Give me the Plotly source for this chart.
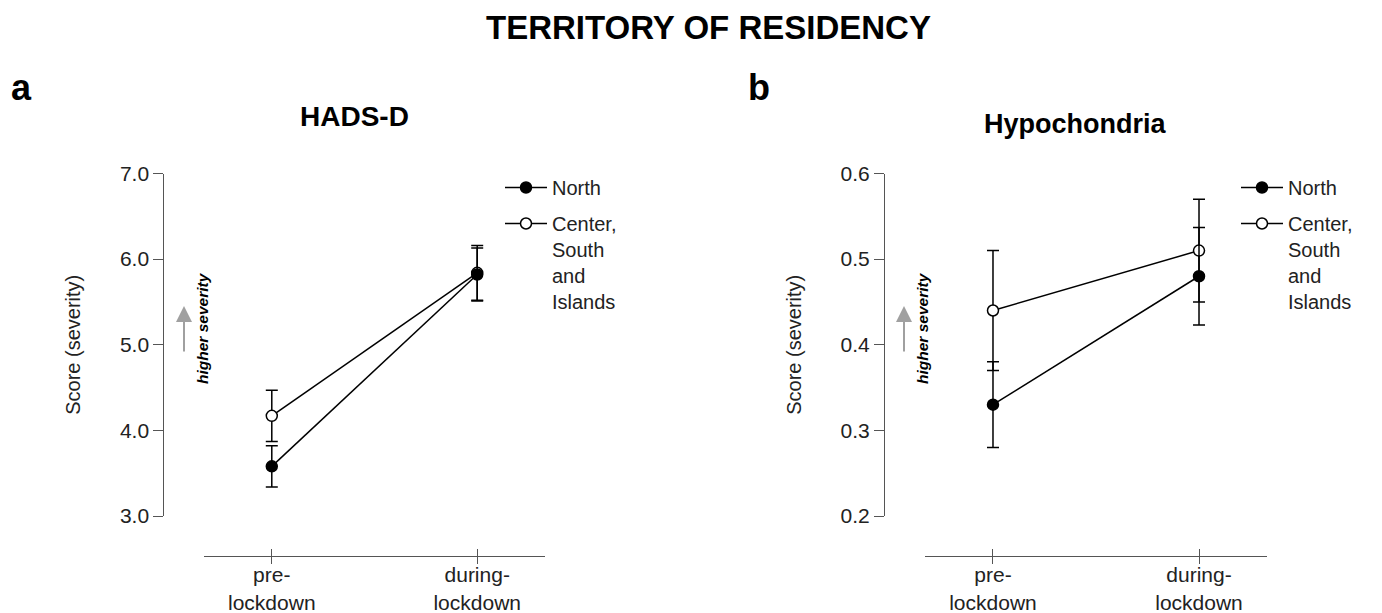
import plotly.graph_objects as go

W, H = 1382, 613
FONT = "Liberation Sans"

# ---------------- data ----------------
categories = ["pre-<br>lockdown", "during-<br>lockdown"]
group_names = ["North", "Center,<br>South<br>and<br>Islands"]

hads_north = [3.58, 5.82]
hads_north_err = [0.24, 0.31]
hads_center = [4.17, 5.84]
hads_center_err = [0.30, 0.32]

hypo_north = [0.33, 0.48]
hypo_north_err = [0.05, 0.057]
hypo_center = [0.44, 0.51]
hypo_center_err = [0.07, 0.06]

hads_ticks = [3.0, 4.0, 5.0, 6.0, 7.0]
hypo_ticks = [0.2, 0.3, 0.4, 0.5, 0.6]


def px(p):
    return p / W


def py(p):
    return 1 - p / H


fig = go.Figure()

panels = [
    dict(xa="x", ya="y", xo="x3", legend="legend", tag="a",
         north=hads_north, north_err=hads_north_err,
         center=hads_center, center_err=hads_center_err),
    dict(xa="x2", ya="y2", xo="x4", legend="legend2", tag="b",
         north=hypo_north, north_err=hypo_north_err,
         center=hypo_center, center_err=hypo_center_err),
]

for p in panels:
    fig.add_trace(go.Scatter(
        x=categories, y=p["center"], xaxis=p["xa"], yaxis=p["ya"],
        mode="lines+markers", name=group_names[1], legend=p["legend"], legendrank=2,
        legendgroup="center_" + p["tag"],
        line=dict(color="black", width=1.5),
        marker=dict(size=11, color="white", line=dict(color="black", width=1.5)),
        error_y=dict(type="data", array=p["center_err"], color="black", thickness=1.5, width=6),
        hoverinfo="skip"))
    fig.add_trace(go.Scatter(
        x=categories, y=p["north"], xaxis=p["xa"], yaxis=p["ya"],
        mode="lines+markers", name=group_names[0], legend=p["legend"], legendrank=1,
        legendgroup="north_" + p["tag"],
        line=dict(color="black", width=1.5),
        marker=dict(size=11, color="black", line=dict(color="black", width=1.5)),
        error_y=dict(type="data", array=p["north_err"], color="black", thickness=1.5, width=6),
        hoverinfo="skip"))
    fig.add_trace(go.Scatter(
        x=categories, y=p["north"], xaxis=p["xo"], yaxis=p["ya"],
        mode="markers", marker=dict(opacity=0), showlegend=False, hoverinfo="skip"))

AX = "#555555"
xcommon = dict(type="category", categoryorder="array", categoryarray=categories,
               range=[-0.33, 1.33], anchor="free", position=py(556), automargin=False,
               showgrid=False, zeroline=False, fixedrange=True)
ycommon = dict(anchor="free", showline=True, linecolor=AX, linewidth=1, automargin=False,
               ticks="outside", ticklen=10, tickcolor=AX, tickwidth=1,
               tickfont=dict(size=21, color="#222", family=FONT),
               tickformat=".1f", showgrid=False, zeroline=False, fixedrange=True,
               domain=[py(516), py(173.5)])

xa_dom = [px(204), px(545)]
xb_dom = [px(925), px(1267)]

legend_common = dict(xanchor="left", yanchor="top", font=dict(size=20, color="#222"),
                     bgcolor="rgba(0,0,0,0)", valign="top", tracegroupgap=7,
                     traceorder="grouped", itemwidth=42)

fig.update_layout(
    template="none",
    width=W, height=H,
    margin=dict(l=0, r=0, t=0, b=0, autoexpand=False),
    paper_bgcolor="white", plot_bgcolor="white",
    font=dict(family=FONT, color="black"),
    # main x axes: labels + upper half of the crossing ticks
    xaxis=dict(domain=xa_dom, showline=True, linecolor=AX, linewidth=1,
               ticks="inside", ticklen=7, tickcolor=AX,
               tickfont=dict(size=21, color="#222"), **xcommon),
    xaxis2=dict(domain=xb_dom, showline=True, linecolor=AX, linewidth=1,
                ticks="inside", ticklen=7, tickcolor=AX,
                tickfont=dict(size=21, color="#222"), **xcommon),
    # overlay x axes: lower half of the crossing ticks
    xaxis3=dict(overlaying="x", showline=False, ticks="outside", ticklen=7, tickcolor=AX,
                showticklabels=False, **xcommon),
    xaxis4=dict(overlaying="x2", showline=False, ticks="outside", ticklen=7, tickcolor=AX,
                showticklabels=False, **xcommon),
    yaxis=dict(range=[3, 7], tickvals=hads_ticks, position=px(163.3),
               title=dict(text="Score (severity)", font=dict(size=20, color="#222"), standoff=32),
               **ycommon),
    yaxis2=dict(range=[0.2, 0.6], tickvals=hypo_ticks, position=px(884),
                title=dict(text="Score (severity)", font=dict(size=20, color="#222"), standoff=32),
                **ycommon),
    legend=dict(x=px(500), y=py(168), **legend_common),
    legend2=dict(x=px(1236), y=py(168), **legend_common),
    showlegend=True,
)

annos = [
    dict(text="<b>TERRITORY OF RESIDENCY</b>", x=px(709), y=py(27), font=dict(size=33)),
    dict(text="<b>a</b>", x=px(22), y=py(87), font=dict(size=36)),
    dict(text="<b>b</b>", x=px(759), y=py(87), font=dict(size=36)),
    dict(text="<b>HADS-D</b>", x=px(354), y=py(116), font=dict(size=28)),
    dict(text="<b>Hypochondria</b>", x=px(1075), y=py(124), font=dict(size=27)),
    dict(text="<b><i>higher severity</i></b>", x=px(202), y=py(328), textangle=-90,
         font=dict(size=15.5)),
    dict(text="<b><i>higher severity</i></b>", x=px(922), y=py(328), textangle=-90,
         font=dict(size=15.5)),
]
for a in annos:
    fig.add_annotation(xref="paper", yref="paper", showarrow=False,
                       xanchor="center", yanchor="middle", **a)

for ax_x in (184, 904):
    fig.add_annotation(xref="paper", yref="paper", x=px(ax_x), y=py(306),
                       ax=0, ay=47, text="", showarrow=True,
                       arrowhead=2, arrowsize=1.6, arrowwidth=2, arrowcolor="#a0a0a0")

fig.write_html(
    "out.html",
    config={"displayModeBar": False},
    post_script="document.body.style.margin='0px';document.body.style.overflow='hidden';",
)
